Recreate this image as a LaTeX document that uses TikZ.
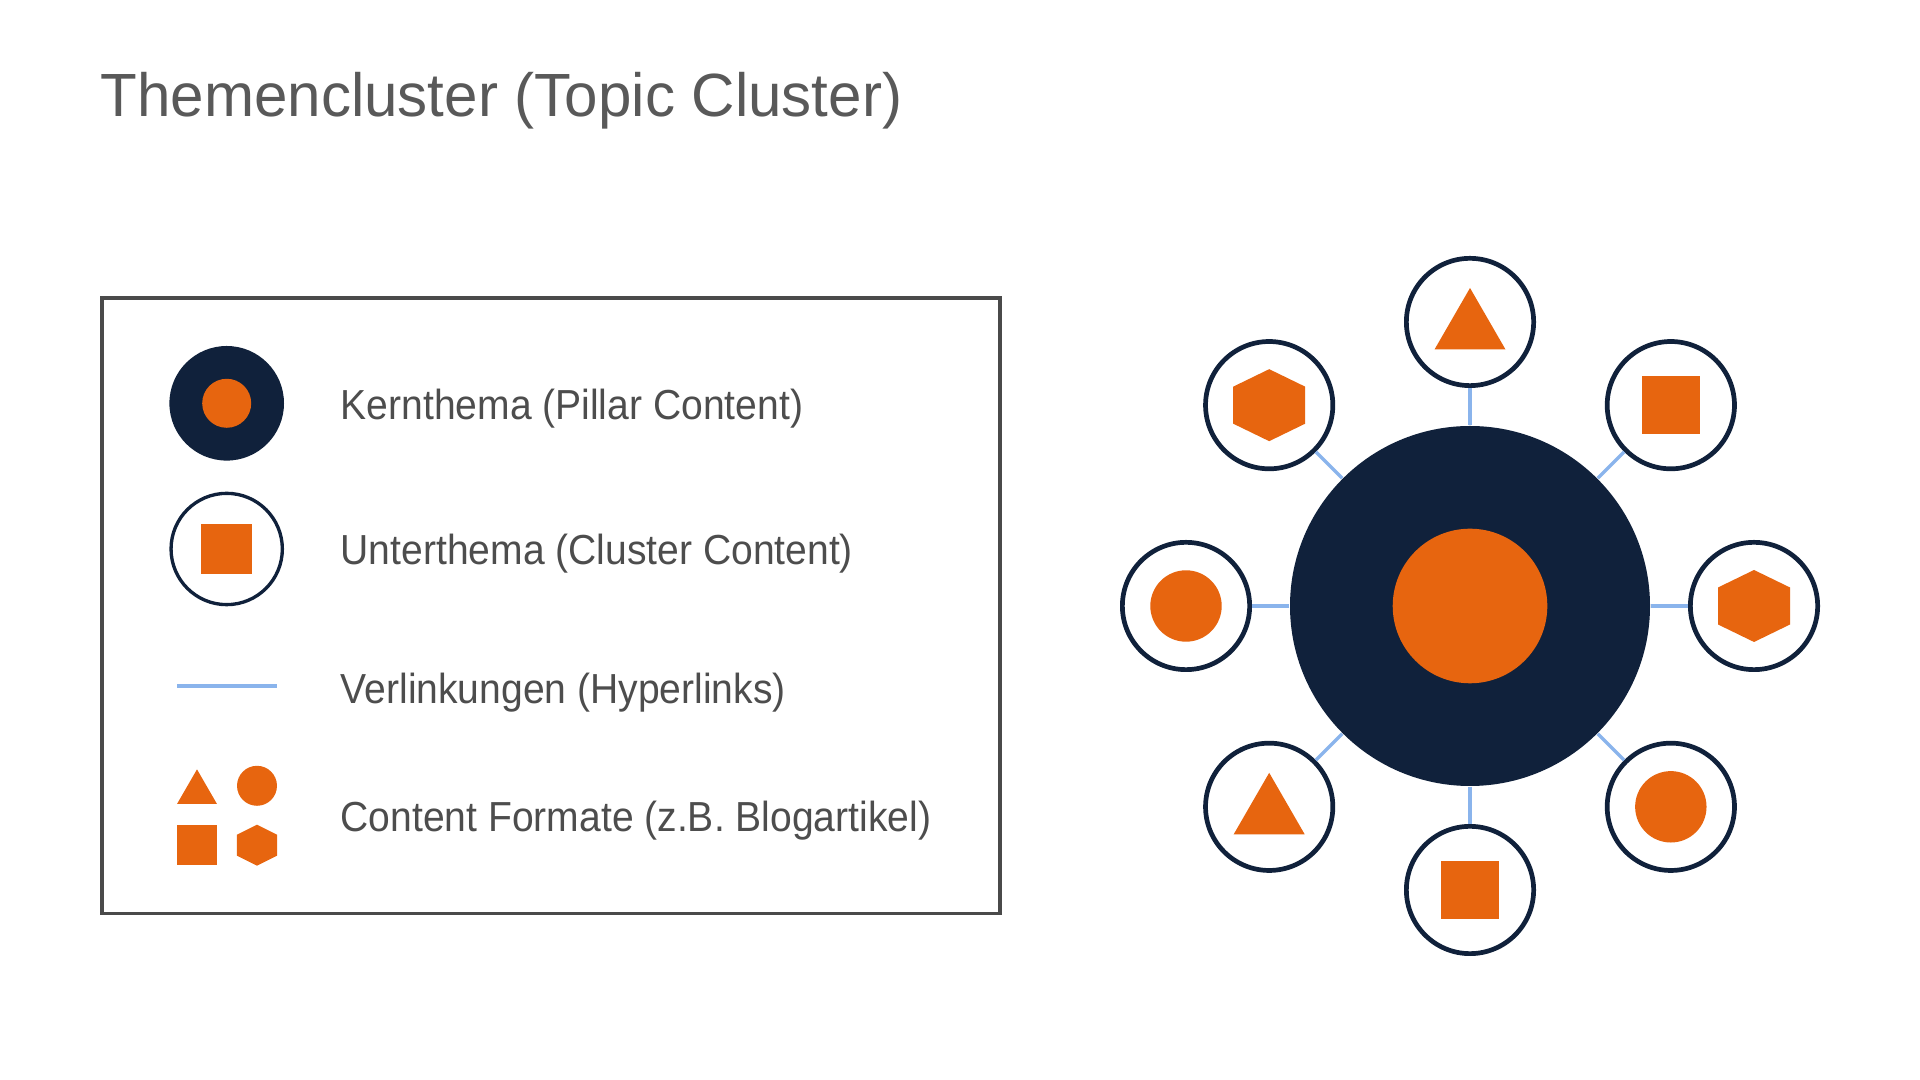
\documentclass[tikz,border=0pt]{standalone}
\usepackage{fontspec}
\setmainfont{Liberation Sans}
\newfontfamily\titlefont{Liberation Sans}[FakeStretch=0.985]
\newfontfamily\legendfont{Liberation Sans}[FakeStretch=0.93]
\usepackage{xcolor}
\usepackage{tikz}
\usetikzlibrary{positioning,calc}
\definecolor{navy}{HTML}{10213B}
\definecolor{orng}{HTML}{E7650F}
\definecolor{linkblue}{HTML}{8AB4EC}
\definecolor{titlegray}{HTML}{595959}
\definecolor{textgray}{HTML}{4D4D4D}
\definecolor{boxgray}{HTML}{4A4A4A}
\tikzstyle{core} = [circle, fill=navy, minimum size=3.6cm, inner sep=0]
\tikzstyle{hub} = [circle, fill=orng, inner sep=0]
\tikzstyle{sub} = [circle, draw=navy, line width=1.34pt, fill=white, minimum size=1.273cm, inner sep=0]
\tikzstyle{link} = [draw=linkblue, line width=0.95pt]
\tikzstyle{legendtext} = [anchor=base west, inner sep=0, text=textgray, font=\legendfont\fontsize{11.95pt}{14pt}\selectfont]
\tikzset{
  tri/.pic={\fill[orng] (-0.355,-0.275) -- (0.355,-0.275) -- (0,0.34) -- cycle;},
  sq/.pic={\fill[orng] (-0.292,-0.292) rectangle (0.292,0.292);},
  dot/.pic={\fill[orng] (0,0) circle (0.357);},
  hexa/.pic={\fill[orng] (0,0.36) -- (0.36,0.185) -- (0.36,-0.185) -- (0,-0.36) -- (-0.36,-0.185) -- (-0.36,0.185) -- cycle;}
}

\begin{document}
\begin{tikzpicture}
    \useasboundingbox (0,0) rectangle (19.2,10.8);

    % Title
    \node[anchor=base west, inner sep=0, text=titlegray, font=\titlefont\fontsize{17.36pt}{21pt}\selectfont] (title) at (1.0,9.633) {Themencluster (Topic Cluster)};

    % Legend
    \node[draw=boxgray, line width=1.1pt, minimum width=8.98cm, minimum height=6.155cm, inner sep=0] (legend) at (5.51,4.7425) {};
    \node[circle, fill=navy, minimum size=1.146cm, inner sep=0] (lpillar) at (2.267,6.767) {};
    \node[hub, minimum size=0.49cm] (lpillarhub) at (lpillar) {};
    \node[circle, draw=navy, line width=0.95pt, minimum size=1.113cm, inner sep=0] (lcluster) at (2.267,5.31) {};
    \pic[scale=0.87] at (lcluster) {sq};
    \coordinate (llinka) at (1.77,3.94);
    \coordinate (llinkb) at (2.77,3.94);
    \draw[link, line width=1.15pt] (llinka) -- (llinkb);
    \pic[scale=0.563] at (1.97,2.915) {tri};
    \pic[scale=0.56] at (2.57,2.942) {dot};
    \pic[scale=0.69] at (1.97,2.353) {sq};
    \pic[xscale=0.556, yscale=0.57] at (2.57,2.348) {hexa};

    \node[legendtext] (tpillar) at (3.40,6.60) {Kernthema (Pillar Content)};
    \node[legendtext] (tcluster) at (3.40,5.15) {Unterthema (Cluster Content)};
    \node[legendtext] (tlink) at (3.40,3.767) {Verlinkungen (Hyperlinks)};
    \node[legendtext] (tformat) at (3.40,2.485) {Content Formate (z.B. Blogartikel)};

    % Cluster
    \node[core] (core) at (14.70,4.74) {};
    \node[hub, minimum size=1.546cm] (corehub) at (core) {};

    \node[sub] (sn) at ([shift={(90:2.84)}]core) {};
    \node[sub] (sne) at ([shift={(45:2.84)}]core) {};
    \node[sub] (se) at ([shift={(0:2.84)}]core) {};
    \node[sub] (sse) at ([shift={(-45:2.84)}]core) {};
    \node[sub] (ss) at ([shift={(-90:2.84)}]core) {};
    \node[sub] (ssw) at ([shift={(-135:2.84)}]core) {};
    \node[sub] (sw) at ([shift={(180:2.84)}]core) {};
    \node[sub] (snw) at ([shift={(135:2.84)}]core) {};

    \pic at (sn) {tri};
    \pic at (sne) {sq};
    \pic at (se) {hexa};
    \pic at (sse) {dot};
    \pic at (ss) {sq};
    \pic at (ssw) {tri};
    \pic at (sw) {dot};
    \pic at (snw) {hexa};

    % Links
    \draw[link] (core) -- (sn);
    \draw[link] (core) -- (sne);
    \draw[link] (core) -- (se);
    \draw[link] (core) -- (sse);
    \draw[link] (core) -- (ss);
    \draw[link] (core) -- (ssw);
    \draw[link] (core) -- (sw);
    \draw[link] (core) -- (snw);
\end{tikzpicture}
\end{document}
